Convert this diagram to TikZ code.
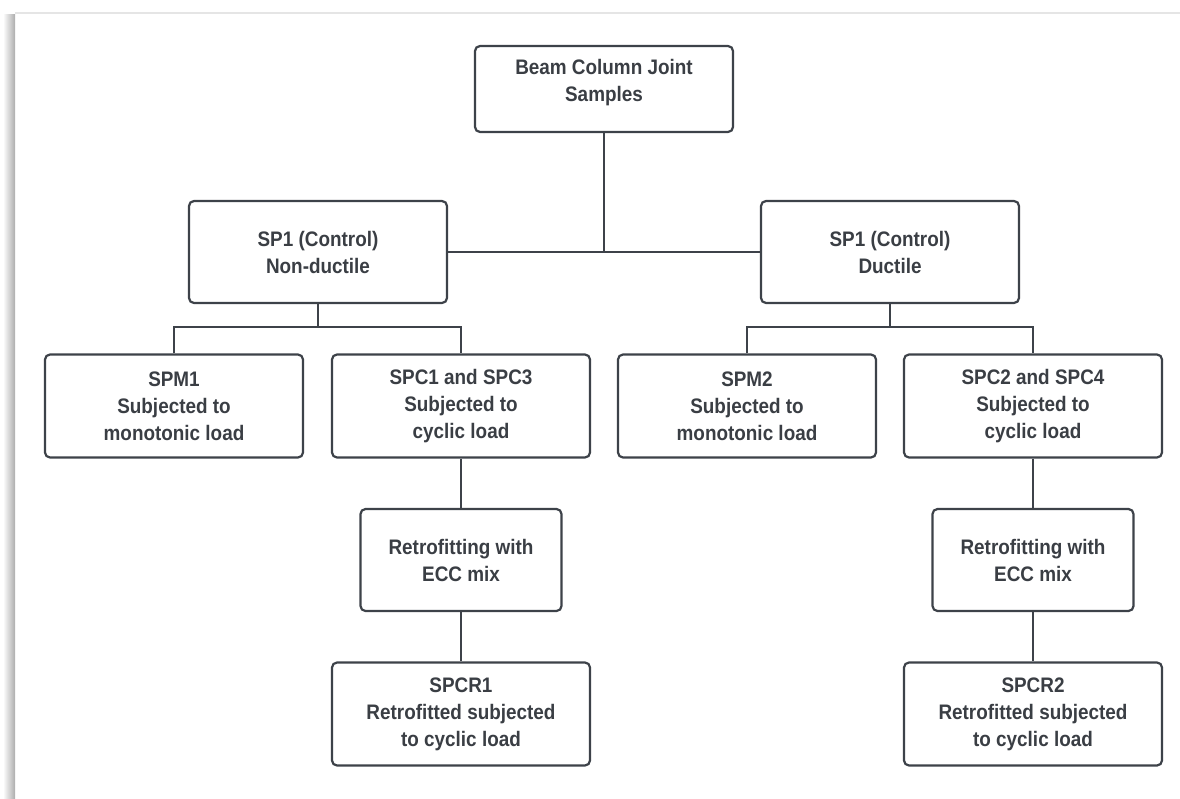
\documentclass[tikz,border=0pt]{standalone}
\usepackage{fontspec}
\setmainfont{Liberation Sans}[FakeStretch=0.9]
\usepackage{tikz}
\usetikzlibrary{positioning}
\definecolor{edgegray}{HTML}{3D4249}
\definecolor{inkgray}{HTML}{3A3E44}

\begin{document}
\begin{tikzpicture}[x=1pt,y=-1pt,
    blk/.style={draw=edgegray, line width=2.2pt, rounded corners=5pt, fill=white,
      align=center, text=inkgray, inner sep=0pt,
      font=\fontsize{21}{27}\selectfont\bfseries,
      minimum width=258pt, minimum height=103pt},
    link/.style={draw=edgegray, line width=2.2pt}]
  \useasboundingbox (0,0) rectangle (1180,798);
  % page edge and its shadow
  \shade [left color=white, right color=gray!65] (3,14) rectangle (15,798);
  \draw [gray!20, line width=2pt] (15,13) -- (1180,13);

  % boxes
  \node [blk, minimum height=86pt, text depth=18pt] (beam) at (604,89) {Beam Column Joint\\Samples};
  \node [blk, minimum height=102pt] (nonduc) at (318,252) {SP1 (Control)\\Non-ductile};
  \node [blk, minimum height=102pt] (duc) at (890,252) {SP1 (Control)\\Ductile};
  \node [blk] (spm1) at (174,406) {SPM1\\Subjected to\\monotonic load};
  \node [blk] (spc13) at (461,406) {SPC1 and SPC3\\Subjected to\\cyclic load};
  \node [blk] (spm2) at (747,406) {SPM2\\Subjected to\\monotonic load};
  \node [blk] (spc24) at (1033,406) {SPC2 and SPC4\\Subjected to\\cyclic load};
  \node [blk, minimum width=201pt, minimum height=102pt] (retroa) at (461,560) {Retrofitting with\\ECC mix};
  \node [blk, minimum width=201pt, minimum height=102pt] (retrob) at (1033,560) {Retrofitting with\\ECC mix};
  \node [blk] (spcr1) at (461,714) {SPCR1\\Retrofitted subjected\\to cyclic load};
  \node [blk] (spcr2) at (1033,714) {SPCR2\\Retrofitted subjected\\to cyclic load};

  % connectors
  \coordinate (lbus) at (318,327);
  \coordinate (rbus) at (890,327);
  \draw [link] (nonduc.east) -- (duc.west);
  \draw [link] (beam.south) -- (beam.south |- nonduc.east);
  \draw [link] (nonduc.south) -- (lbus);
  \draw [link] (spm1.north) |- (lbus) -| (spc13.north);
  \draw [link] (duc.south) -- (rbus);
  \draw [link] (spm2.north) |- (rbus) -| (spc24.north);
  \draw [link] (spc13.south) -- (retroa.north);
  \draw [link] (retroa.south) -- (spcr1.north);
  \draw [link] (spc24.south) -- (retrob.north);
  \draw [link] (retrob.south) -- (spcr2.north);
\end{tikzpicture}
\end{document}
